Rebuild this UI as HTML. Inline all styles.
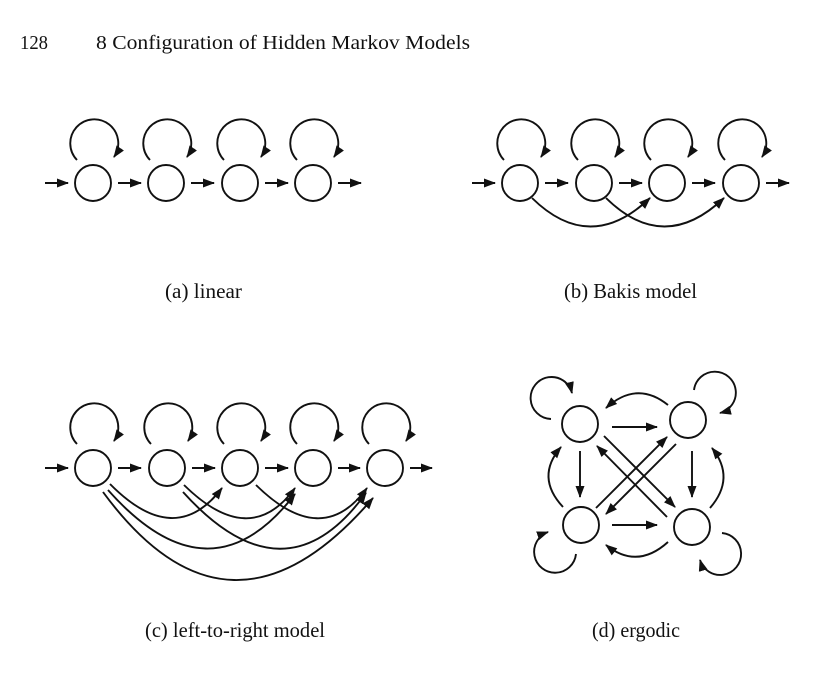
<!DOCTYPE html>
<html><head><meta charset="utf-8"><style>
html,body{margin:0;padding:0;background:#fff;}
svg{display:block;}
text{font-family:"Liberation Serif",serif;fill:#111;}
</style></head><body>
<svg width="838" height="677" viewBox="0 0 838 677" xmlns="http://www.w3.org/2000/svg">
<defs>
<marker id="a" markerUnits="userSpaceOnUse" markerWidth="13" markerHeight="10" refX="11" refY="4.5" orient="auto">
<path d="M0,0 L12,4.5 L0,9 Z" fill="#111"/>
</marker>
</defs>
<text x="20" y="49" font-size="20" textLength="28" lengthAdjust="spacingAndGlyphs">128</text>
<text x="96" y="49" font-size="20" textLength="374" lengthAdjust="spacingAndGlyphs">8  Configuration of Hidden Markov Models</text>

<g fill="none" stroke="#111" stroke-width="1.9">
<!-- (a) linear -->
<line x1="45" y1="183" x2="68" y2="183" marker-end="url(#a)"/>
<circle cx="93" cy="183" r="18"/><circle cx="166" cy="183" r="18"/><circle cx="240" cy="183" r="18"/><circle cx="313" cy="183" r="18"/>
<line x1="118" y1="183" x2="141" y2="183" marker-end="url(#a)"/>
<line x1="191" y1="183" x2="214" y2="183" marker-end="url(#a)"/>
<line x1="265" y1="183" x2="288" y2="183" marker-end="url(#a)"/>
<line x1="338" y1="183" x2="361" y2="183" marker-end="url(#a)"/>
<path d="M77,160 A24,24 0 1 1 114,157" marker-end="url(#a)"/>
<path d="M150,160 A24,24 0 1 1 187,157" marker-end="url(#a)"/>
<path d="M224,160 A24,24 0 1 1 261,157" marker-end="url(#a)"/>
<path d="M297,160 A24,24 0 1 1 334,157" marker-end="url(#a)"/>
<!-- (b) Bakis -->
<line x1="472" y1="183" x2="495" y2="183" marker-end="url(#a)"/>
<circle cx="520" cy="183" r="18"/><circle cx="594" cy="183" r="18"/><circle cx="667" cy="183" r="18"/><circle cx="741" cy="183" r="18"/>
<line x1="545" y1="183" x2="568" y2="183" marker-end="url(#a)"/>
<line x1="619" y1="183" x2="642" y2="183" marker-end="url(#a)"/>
<line x1="692" y1="183" x2="715" y2="183" marker-end="url(#a)"/>
<line x1="766" y1="183" x2="789" y2="183" marker-end="url(#a)"/>
<path d="M504,160 A24,24 0 1 1 541,157" marker-end="url(#a)"/>
<path d="M578,160 A24,24 0 1 1 615,157" marker-end="url(#a)"/>
<path d="M651,160 A24,24 0 1 1 688,157" marker-end="url(#a)"/>
<path d="M725,160 A24,24 0 1 1 762,157" marker-end="url(#a)"/>
<path d="M532,198 Q590,255 650,198" marker-end="url(#a)"/>
<path d="M606,198 Q664,255 724,198" marker-end="url(#a)"/>

<!-- (c) left-to-right -->
<line x1="45" y1="468" x2="68" y2="468" marker-end="url(#a)"/>
<circle cx="93" cy="468" r="18"/><circle cx="167" cy="468" r="18"/><circle cx="240" cy="468" r="18"/><circle cx="313" cy="468" r="18"/><circle cx="385" cy="468" r="18"/>
<line x1="118" y1="468" x2="141" y2="468" marker-end="url(#a)"/>
<line x1="192" y1="468" x2="215" y2="468" marker-end="url(#a)"/>
<line x1="265" y1="468" x2="288" y2="468" marker-end="url(#a)"/>
<line x1="338" y1="468" x2="360" y2="468" marker-end="url(#a)"/>
<line x1="410" y1="468" x2="432" y2="468" marker-end="url(#a)"/>
<path d="M77,444 A24,24 0 1 1 114,441" marker-end="url(#a)"/>
<path d="M151,444 A24,24 0 1 1 188,441" marker-end="url(#a)"/>
<path d="M224,444 A24,24 0 1 1 261,441" marker-end="url(#a)"/>
<path d="M297,444 A24,24 0 1 1 334,441" marker-end="url(#a)"/>
<path d="M369,444 A24,24 0 1 1 406,441" marker-end="url(#a)"/>
<path d="M110,484 Q175,550 222,488" marker-end="url(#a)"/>
<path d="M184,485 Q250,550 295,488" marker-end="url(#a)"/>
<path d="M256,485 Q322,550 367,488" marker-end="url(#a)"/>
<path d="M108,490 Q210,605 295,494" marker-end="url(#a)"/>
<path d="M183,492 Q285,605 366,493" marker-end="url(#a)"/>
<path d="M103,492 Q230,665 373,498" marker-end="url(#a)"/>

<!-- (d) ergodic -->
<circle cx="580" cy="424" r="18"/><circle cx="688" cy="420" r="18"/><circle cx="581" cy="525" r="18"/><circle cx="692" cy="527" r="18"/>
<line x1="612" y1="427" x2="657" y2="427" marker-end="url(#a)"/>
<line x1="612" y1="525" x2="657" y2="525" marker-end="url(#a)"/>
<line x1="580" y1="451" x2="580" y2="497" marker-end="url(#a)"/>
<line x1="692" y1="451" x2="692" y2="497" marker-end="url(#a)"/>
<line x1="604" y1="436" x2="675" y2="507" marker-end="url(#a)"/>
<line x1="667" y1="517" x2="597" y2="446" marker-end="url(#a)"/>
<line x1="596" y1="508" x2="667" y2="437" marker-end="url(#a)"/>
<line x1="676" y1="444" x2="606" y2="514" marker-end="url(#a)"/>
<path d="M668,405 Q637,380 606,408" marker-end="url(#a)"/>
<path d="M668,542 Q637,570 606,545" marker-end="url(#a)"/>
<path d="M563,507 Q535,477 561,447" marker-end="url(#a)"/>
<path d="M710,508 Q736,478 712,448" marker-end="url(#a)"/>
<path d="M551,419 A21,21 0 1 1 572,393" marker-end="url(#a)"/>
<path d="M694,390 A21,21 0 1 1 720,413" marker-end="url(#a)"/>
<path d="M576,554 A21,21 0 1 1 548,532" marker-end="url(#a)"/>
<path d="M722,533 A21,21 0 1 1 700,560" marker-end="url(#a)"/>
</g>

<text x="165" y="298" font-size="21" textLength="77" lengthAdjust="spacingAndGlyphs">(a) linear</text>
<text x="564" y="298" font-size="21" textLength="133" lengthAdjust="spacingAndGlyphs">(b) Bakis model</text>
<text x="145" y="637" font-size="21" textLength="180" lengthAdjust="spacingAndGlyphs">(c) left-to-right model</text>
<text x="592" y="637" font-size="21" textLength="88" lengthAdjust="spacingAndGlyphs">(d) ergodic</text>
</svg>
</body></html>
